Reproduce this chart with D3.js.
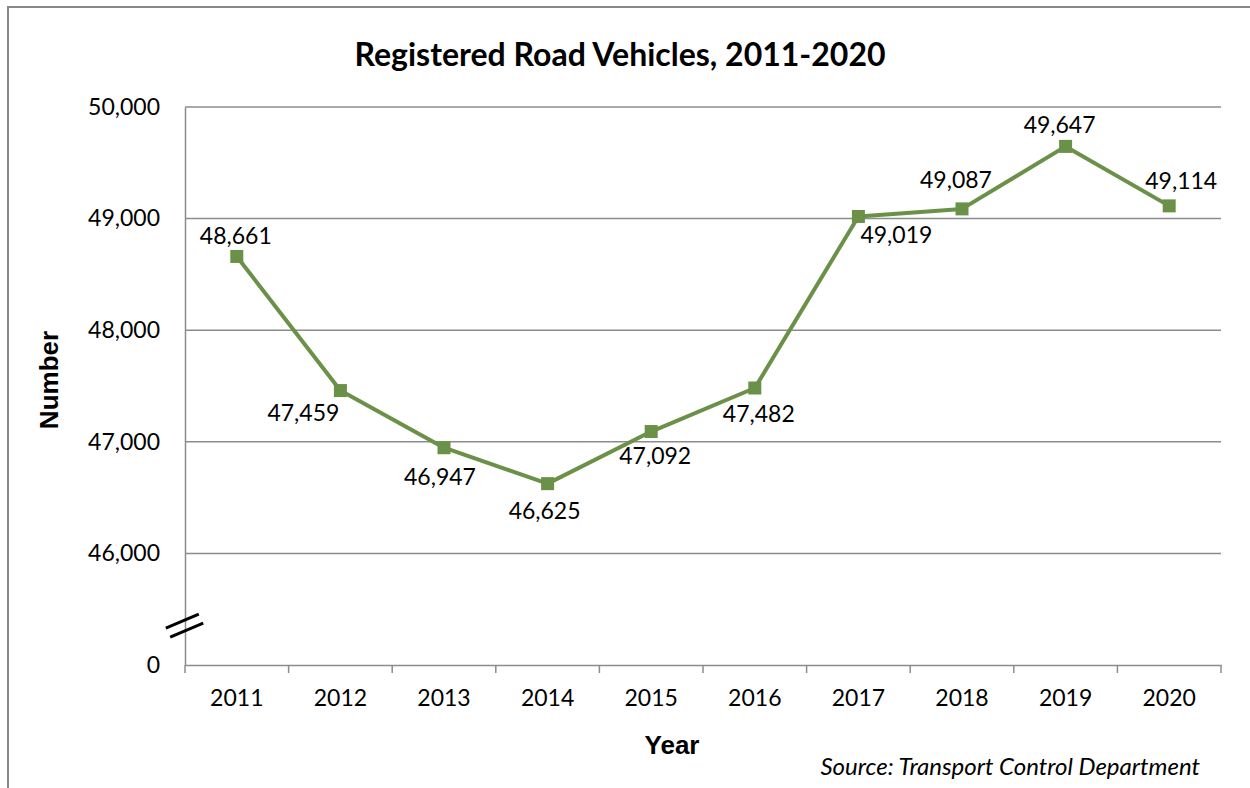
<!DOCTYPE html>
<html>
<head>
<meta charset="utf-8">
<script src="https://cdn.jsdelivr.net/npm/d3@7"></script>
<style>
  html, body { margin: 0; padding: 0; background: #fff; }
  svg { display: block; }
</style>
</head>
<body>
<svg id="chart" width="1250" height="788"></svg>
<script>
// Registered road vehicles by year
const years = ["2011", "2012", "2013", "2014", "2015", "2016", "2017", "2018", "2019", "2020"];
const vehicles = [48661, 47459, 46947, 46625, 47092, 47482, 49019, 49087, 49647, 49114];

// Y axis ticks; the lowest band stands for the broken segment down to zero
const yTickValues = [45000, 46000, 47000, 48000, 49000, 50000];
const yTickLabels = ["0", "46,000", "47,000", "48,000", "49,000", "50,000"];

// Where each value label sits relative to its marker
const labelPlacement = [
  [-1, -18], [-37, 25], [-4, 31], [-3, 30], [4, 27], [4, 28], [38, 21], [-6, -27], [-6, -19], [12, -23]
];

const svg = d3.select("#chart");
const margin = { left: 185, right: 1221, top: 107, bottom: 665 };

const labelFont = "'Lato', 'Open Sans', sans-serif";
const axisTitleFont = "'Liberation Sans', Arial, sans-serif";
const gridColor = "#8c8c8c";
const lineColor = "#6b9149";
const fs = 23;

// outer frame
svg.append("rect")
  .attr("x", 8).attr("y", 7)
  .attr("width", 1260).attr("height", 800)
  .attr("fill", "none").attr("stroke", "#888").attr("stroke-width", 2);

const x = d3.scaleBand().domain(years).range([margin.left, margin.right]).padding(0);
const y = d3.scaleLinear().domain([45000, 50000]).range([margin.bottom, margin.top]);

// horizontal gridlines
svg.append("g")
  .selectAll("line")
  .data(yTickValues.filter(v => v !== 45000))
  .join("line")
  .attr("x1", margin.left).attr("x2", margin.right)
  .attr("y1", d => y(d)).attr("y2", d => y(d))
  .attr("stroke", gridColor).attr("stroke-width", 1.5);

// y axis labels
const yAxis = d3.axisLeft(y)
  .tickValues(yTickValues)
  .tickFormat((d, i) => yTickLabels[i])
  .tickSize(0)
  .tickPadding(25);
const gy = svg.append("g").attr("transform", `translate(${margin.left},0)`).call(yAxis);
gy.select(".domain").attr("stroke", gridColor).attr("stroke-width", 1.5);
gy.selectAll("text")
  .attr("font-family", labelFont).attr("font-size", fs).attr("fill", "#000");

// x axis with boundary ticks between categories
const xAxis = d3.axisBottom(x).tickSize(0).tickPadding(25);
const gx = svg.append("g").attr("transform", `translate(0,${margin.bottom})`).call(xAxis);
gx.select(".domain").attr("stroke", gridColor).attr("stroke-width", 1.5);
gx.selectAll("text")
  .attr("font-family", labelFont).attr("font-size", fs).attr("fill", "#000");
const boundaries = years.map(d => x(d)).concat([x(years[years.length - 1]) + x.bandwidth()]);
gx.selectAll(".bound")
  .data(boundaries)
  .join("line")
  .attr("class", "bound")
  .attr("x1", d => d).attr("x2", d => d)
  .attr("y1", 0).attr("y2", 8)
  .attr("stroke", gridColor).attr("stroke-width", 1.5);

// axis break mark
const brk = svg.append("g").attr("stroke", "#000").attr("stroke-width", 3);
const by = (y(45000) + y(46000)) / 2 + 16.5;
[[-2.2, -4.5], [2.2, 4.5]].forEach(([ox, oy]) => {
  brk.append("line")
    .attr("x1", margin.left - 17 + ox).attr("y1", by + oy + 7)
    .attr("x2", margin.left + 16 + ox).attr("y2", by + oy - 7);
});

// series line and markers
const cx = d => x(d) + x.bandwidth() / 2;
const line = d3.line().x((d, i) => cx(years[i])).y(d => y(d));
svg.append("path")
  .datum(vehicles)
  .attr("d", line)
  .attr("fill", "none")
  .attr("stroke", lineColor)
  .attr("stroke-width", 4)
  .attr("stroke-linejoin", "round");

svg.append("g")
  .selectAll("rect")
  .data(vehicles)
  .join("rect")
  .attr("x", (d, i) => cx(years[i]) - 6.5)
  .attr("y", d => y(d) - 6.5)
  .attr("width", 13).attr("height", 13)
  .attr("fill", lineColor);

// value labels
svg.append("g")
  .selectAll("text")
  .data(vehicles)
  .join("text")
  .attr("x", (d, i) => cx(years[i]) + labelPlacement[i][0])
  .attr("y", (d, i) => y(d) + labelPlacement[i][1])
  .attr("text-anchor", "middle")
  .attr("dominant-baseline", "middle")
  .attr("font-family", labelFont).attr("font-size", fs).attr("fill", "#000")
  .text(d => d3.format(",")(d));

// title
svg.append("text")
  .attr("x", 620).attr("y", 66)
  .attr("text-anchor", "middle")
  .attr("font-family", labelFont).attr("font-weight", "bold").attr("font-size", 32)
  .text("Registered Road Vehicles, 2011-2020");

// axis titles
svg.append("text")
  .attr("x", 672).attr("y", 754)
  .attr("text-anchor", "middle")
  .attr("font-family", axisTitleFont).attr("font-weight", "bold").attr("font-size", 26)
  .text("Year");

svg.append("text")
  .attr("transform", "translate(58,380) rotate(-90)")
  .attr("text-anchor", "middle")
  .attr("font-family", axisTitleFont).attr("font-weight", "bold").attr("font-size", 26)
  .text("Number");

// source note
svg.append("text")
  .attr("x", 1200).attr("y", 775)
  .attr("text-anchor", "end")
  .attr("font-family", labelFont).attr("font-style", "italic").attr("font-size", 24)
  .text("Source: Transport Control Department");
</script>
</body>
</html>
